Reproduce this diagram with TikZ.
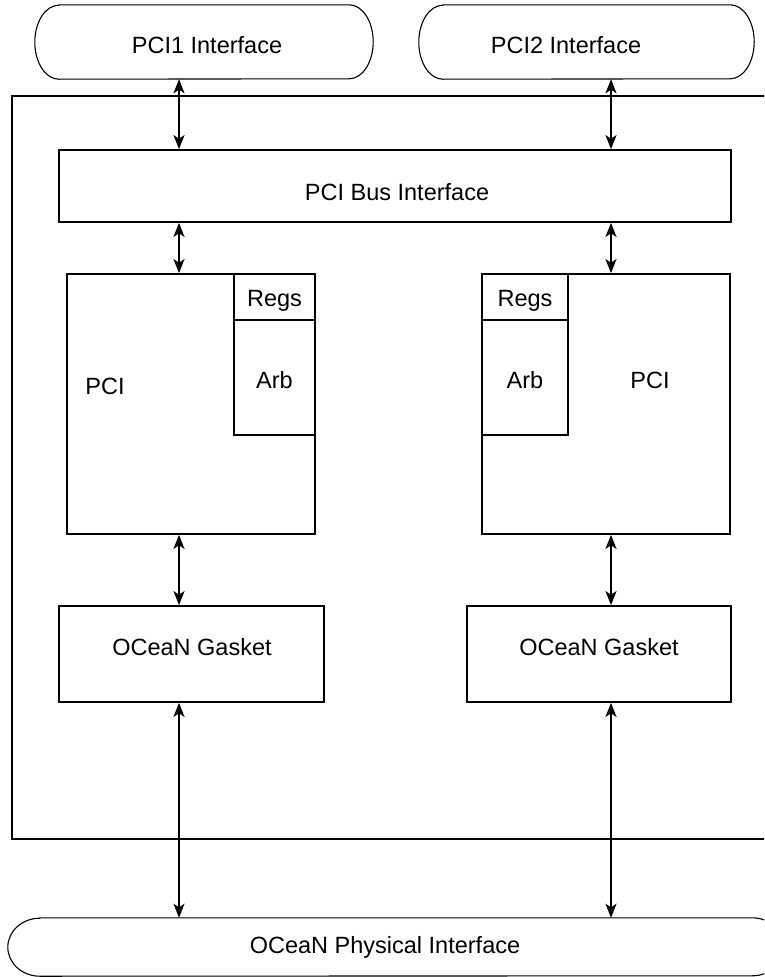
\documentclass[tikz,border=0pt]{standalone}
\usepackage{fontspec}
\setmainfont{Liberation Sans}
\usetikzlibrary{arrows.meta}
\tikzset{
  box/.style={draw, line width=1.7pt, rectangle, inner sep=0pt},
  termshape/.style={rectangle, inner sep=0pt, draw=none},
  termline/.style={line width=1.1pt},
  lbl/.style={inner sep=0pt, anchor=base, font=\fontsize{23.5}{26}\selectfont},
  dbl/.style={line width=1.6pt, {Stealth[length=14pt,width=11pt,inset=3.5pt]}-{Stealth[length=14pt,width=11pt,inset=3.5pt]}},
}
\begin{document}
\begin{tikzpicture}[x=1pt,y=-1pt]
\useasboundingbox (0,0) rectangle (764,977);
\clip (0,0) rectangle (764,977);
% x positions of the two arrow columns
\coordinate (xl) at (179,0);
\coordinate (xr) at (611,0);
% outer frame (right side runs off the picture)
\draw[line width=1.7pt] (800,96) -- (12,96) -- (12,839) -- (800,839);
% terminators
\node[termshape, minimum width=338pt, minimum height=74pt] (pci1) at (204,42) {};
\node[termshape, minimum width=335pt, minimum height=74pt] (pci2) at (586.5,42) {};
\node[termshape, minimum width=776pt, minimum height=58pt] (phy) at (396,947) {};
\draw[termline] ([xshift=24pt]pci1.north west) -- ([xshift=-24pt]pci1.north east)
  arc[start angle=90,end angle=-90,x radius=24pt,y radius=37pt]
  -- ([xshift=24pt]pci1.south west)
  arc[start angle=270,end angle=90,x radius=24pt,y radius=37pt] -- cycle;
\draw[termline] ([xshift=24pt]pci2.north west) -- ([xshift=-24pt]pci2.north east)
  arc[start angle=90,end angle=-90,x radius=24pt,y radius=37pt]
  -- ([xshift=24pt]pci2.south west)
  arc[start angle=270,end angle=90,x radius=24pt,y radius=37pt] -- cycle;
\draw[termline] ([xshift=32pt]phy.north west) -- ([xshift=-32pt]phy.north east)
  arc[start angle=90,end angle=-90,x radius=32pt,y radius=29pt]
  -- ([xshift=32pt]phy.south west)
  arc[start angle=270,end angle=90,x radius=32pt,y radius=29pt] -- cycle;
\node[lbl] at (207,53) {PCI1 Interface};
\node[lbl] at (566,53) {PCI2 Interface};
\node[lbl] at (385,953) {OCeaN Physical Interface};
% PCI bus interface
\node[box, minimum width=672pt, minimum height=72pt] (bus) at (395,186) {};
\node[lbl] at (397,200) {PCI Bus Interface};
% left PCI block
\node[box, minimum width=248pt, minimum height=260pt] (pcil) at (191,404) {};
\node[box, minimum width=81pt, minimum height=46pt] (regsl) at (274.5,297) {};
\node[box, minimum width=81pt, minimum height=115pt] (arbl) at (274.5,377.5) {};
\node[lbl] at (105,394) {PCI};
\node[lbl] at (274.5,306) {Regs};
\node[lbl] at (274.5,388) {Arb};
% right PCI block
\node[box, minimum width=248pt, minimum height=260pt] (pcir) at (606,404) {};
\node[box, minimum width=86pt, minimum height=46pt] (regsr) at (525,297) {};
\node[box, minimum width=86pt, minimum height=115pt] (arbr) at (525,377.5) {};
\node[lbl] at (650,388) {PCI};
\node[lbl] at (525,306) {Regs};
\node[lbl] at (525,388) {Arb};
% gaskets
\node[box, minimum width=265pt, minimum height=96pt] (gasl) at (191.5,654) {};
\node[box, minimum width=264pt, minimum height=96pt] (gasr) at (599,654) {};
\node[lbl] at (192,655) {OCeaN Gasket};
\node[lbl] at (599,655) {OCeaN Gasket};
% connectors
\draw[dbl] (pci1.south -| xl) -- (bus.north -| xl);
\draw[dbl] (pci2.south -| xr) -- (bus.north -| xr);
\draw[dbl] (bus.south -| xl) -- (pcil.north -| xl);
\draw[dbl] (bus.south -| xr) -- (pcir.north -| xr);
\draw[dbl] (pcil.south -| xl) -- (gasl.north -| xl);
\draw[dbl] (pcir.south -| xr) -- (gasr.north -| xr);
\draw[dbl] (gasl.south -| xl) -- (phy.north -| xl);
\draw[dbl] (gasr.south -| xr) -- (phy.north -| xr);
\end{tikzpicture}
\end{document}
